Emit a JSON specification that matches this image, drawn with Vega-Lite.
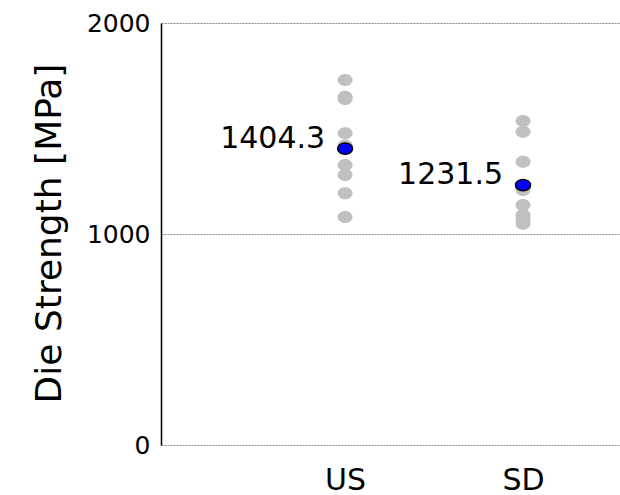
{
  "$schema": "https://vega.github.io/schema/vega-lite/v6.json",
  "width": 459,
  "height": 422,
  "autosize": {"type": "none"},
  "padding": {"left": 161, "top": 23, "right": 0, "bottom": 50},
  "config": {"view": {"stroke": null}, "font": "DejaVu Sans"},
  "data": {
    "values": [
      {"group": "US", "value": 1730, "kind": "sample"},
      {"group": "US", "value": 1651, "kind": "sample"},
      {"group": "US", "value": 1640, "kind": "sample"},
      {"group": "US", "value": 1477, "kind": "sample"},
      {"group": "US", "value": 1420, "kind": "sample"},
      {"group": "US", "value": 1327, "kind": "sample"},
      {"group": "US", "value": 1280, "kind": "sample"},
      {"group": "US", "value": 1193, "kind": "sample"},
      {"group": "US", "value": 1080, "kind": "sample"},
      {"group": "SD", "value": 1535, "kind": "sample"},
      {"group": "SD", "value": 1485, "kind": "sample"},
      {"group": "SD", "value": 1343, "kind": "sample"},
      {"group": "SD", "value": 1209, "kind": "sample"},
      {"group": "SD", "value": 1137, "kind": "sample"},
      {"group": "SD", "value": 1090, "kind": "sample"},
      {"group": "SD", "value": 1070, "kind": "sample"},
      {"group": "SD", "value": 1048, "kind": "sample"},
      {"group": "US", "value": 1404.3, "kind": "mean"},
      {"group": "SD", "value": 1231.5, "kind": "mean"}
    ]
  },
  "encoding": {
    "x": {
      "field": "group",
      "type": "nominal",
      "sort": ["US", "SD"],
      "scale": {"type": "point", "padding": 0.79, "align": 0.655},
      "axis": {
        "title": null,
        "domain": false,
        "ticks": false,
        "grid": false,
        "labelAngle": 0,
        "labelFontSize": 30,
        "labelColor": "#000000",
        "labelPadding": 20
      }
    },
    "y": {
      "field": "value",
      "type": "quantitative",
      "scale": {"domain": [0, 2000], "nice": false, "zero": true},
      "axis": {
        "values": [0, 1000, 2000],
        "format": "d",
        "title": "Die Strength [MPa]",
        "titleFontSize": 36,
        "titleFontWeight": "normal",
        "titleColor": "#000000",
        "titleX": -112,
        "titleY": 210,
        "titleAngle": -90,
        "titleAlign": "center",
        "titleBaseline": "middle",
        "domain": true,
        "domainColor": "#000000",
        "domainWidth": 1.5,
        "ticks": false,
        "grid": true,
        "gridColor": "#888888",
        "gridDash": [2, 1],
        "gridWidth": 1,
        "labelFontSize": 25,
        "labelColor": "#000000",
        "labelPadding": 11
      }
    }
  },
  "layer": [
    {
      "transform": [{"filter": "datum.kind === 'sample'"}],
      "mark": {
        "type": "point",
        "filled": true,
        "shape": "M -1 0 A 1 0.8 0 1 1 1 0 A 1 0.8 0 1 1 -1 0 Z",
        "size": 225,
        "color": "#c0c0c0",
        "opacity": 1
      }
    },
    {
      "transform": [{"filter": "datum.kind === 'mean'"}],
      "mark": {
        "type": "point",
        "filled": true,
        "shape": "M -1 0 A 1 0.75 0 1 1 1 0 A 1 0.75 0 1 1 -1 0 Z",
        "size": 225,
        "fill": "#0000ff",
        "stroke": "#000000",
        "strokeWidth": 1.5,
        "opacity": 1
      }
    },
    {
      "transform": [{"filter": "datum.kind === 'mean'"}],
      "mark": {
        "type": "text",
        "align": "right",
        "baseline": "middle",
        "dx": -20,
        "dy": -10,
        "fontSize": 30,
        "color": "#000000"
      },
      "encoding": {
        "text": {"field": "value", "type": "quantitative", "format": ".1f"}
      }
    }
  ]
}
